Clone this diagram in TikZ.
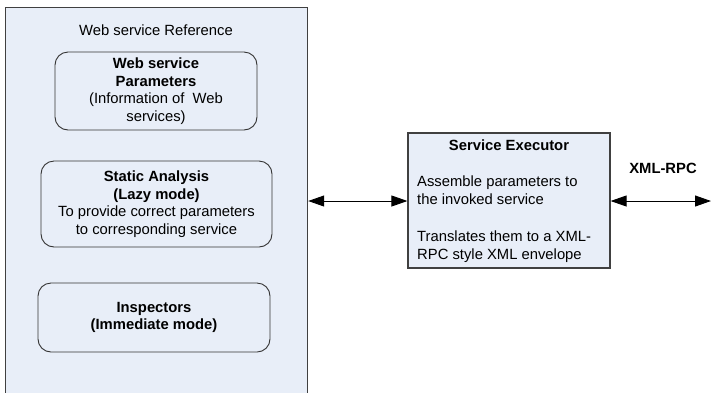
\documentclass[tikz,border=0pt]{standalone}
\usepackage{fontspec}
\setmainfont{Liberation Sans}
\usetikzlibrary{arrows.meta}
\definecolor{boxfill}{HTML}{E8EEF8}
\definecolor{boxline}{HTML}{404040}
\tikzset{
  outerbox/.style={draw=boxline, line width=1.2pt, fill=boxfill, anchor=north west, inner sep=0pt},
  roundbox/.style={draw=black!80, line width=0.9pt, rounded corners=13pt, inner sep=0pt, align=center},
  execbox/.style={draw=boxline, line width=1.2pt, fill=boxfill, inner sep=0pt},
  txt/.style={inner sep=0pt, align=left},
  conn/.style={line width=0.9pt, {Triangle[length=16pt,width=11pt]}-{Triangle[length=16pt,width=11pt]}},
}
\begin{document}
\begin{tikzpicture}[x=1pt,y=-1pt, font=\fontsize{14.8}{17.6}\selectfont]
\useasboundingbox (0,0) rectangle (711,392);
\clip (0,0) rectangle (711,392);
\node[outerbox, minimum width=302pt, minimum height=420pt] (wsr) at (5,7) {};
\node[inner sep=0pt] (wsrtitle) at (156,30) {Web service Reference};
\node[roundbox, minimum width=202pt, minimum height=78pt] (params) at (156,91)
  {\textbf{Web service}\\\textbf{Parameters}\\(Information of\ \ Web\\services)};
\node[roundbox, minimum width=231pt, minimum height=86pt] (static) at (156.5,204)
  {\textbf{Static Analysis}\\\textbf{(Lazy mode)}\\To provide correct parameters\\to corresponding service};
\node[roundbox, minimum width=232pt, minimum height=69pt] (insp) at (154,317.5)
  {\textbf{Inspectors}\\\textbf{(Immediate mode)}};
\node[execbox, minimum width=202pt, minimum height=135pt] (exec) at (509,200.5) {};
\node[inner sep=0pt] (exectitle) at (509,145) {\textbf{Service Executor}};
\node[txt, anchor=north west, font=\fontsize{14.8}{18}\selectfont] (execbody) at (417,176)
  {Assemble parameters to\\the invoked service\\[19pt]Translates them to a XML-\\RPC style XML envelope};
\coordinate (rightend) at (711,201);
\draw[conn] (wsr.east |- rightend) -- (exec.west |- rightend);
\draw[conn] (exec.east |- rightend) -- (rightend);
\node[inner sep=0pt] (xmlrpc) at (663,168) {\textbf{XML-RPC}};
\end{tikzpicture}
\end{document}
